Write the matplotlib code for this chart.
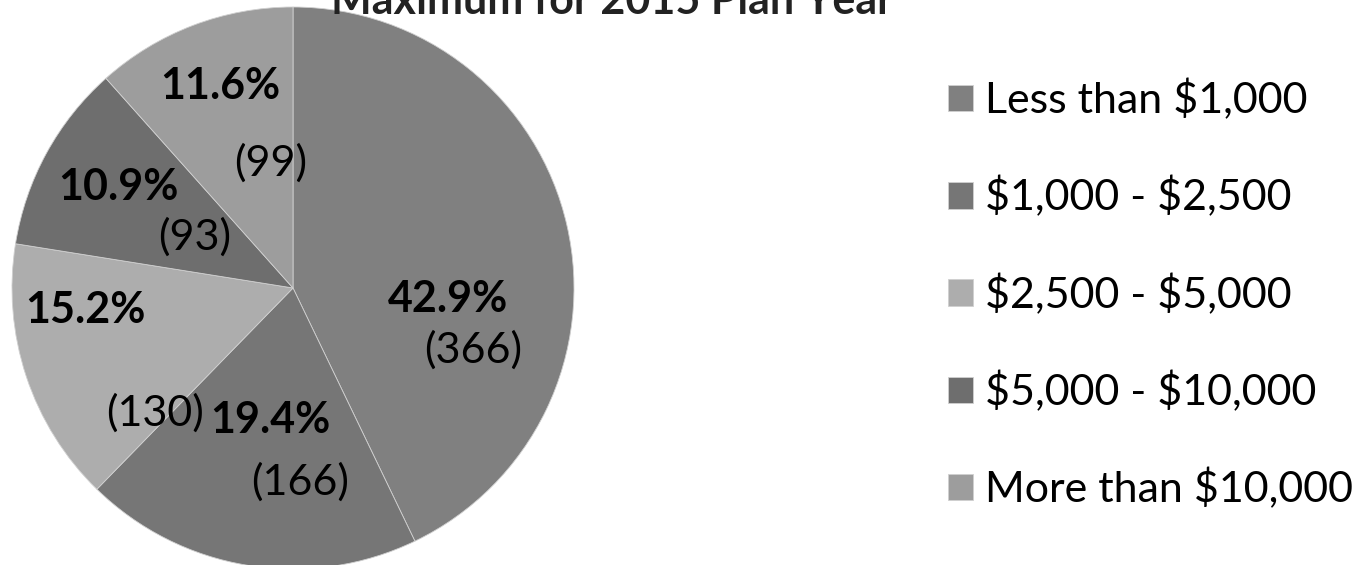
import matplotlib
matplotlib.use("Agg")
import matplotlib.pyplot as plt

# data
labels = ["Less than $1,000", "$1,000 - $2,500", "$2,500 - $5,000",
          "$5,000 - $10,000", "More than $10,000"]
counts = [366, 166, 130, 93, 99]
pcts = ["42.9%", "19.4%", "15.2%", "10.9%", "11.6%"]
colors = ["#808080", "#767676", "#adadad", "#6e6e6e", "#9d9d9d"]

plt.rcParams['font.family'] = ['Lato', 'DejaVu Sans']
plt.rcParams['text.parse_math'] = False

fig = plt.figure(figsize=(13.65, 5.65), dpi=100)
W, H = 1365, 565

# pie centred at (293, 288) px, radius 281 px
cx, cy, r = 293, 288, 281
ax = fig.add_axes([(cx - r) / W, (H - cy - r) / H, 2 * r / W, 2 * r / H])

wedges, _ = ax.pie(counts, colors=colors, startangle=90, counterclock=False,
                   radius=1, wedgeprops=dict(edgecolor='#d0d0d0', linewidth=0.6))
ax.set_xlim(-1, 1)
ax.set_ylim(-1, 1)
ax.axis('off')

# label placement (in pie radius units)
pct_pos = [(0.55, -0.04), (-0.08, -0.47), (-0.74, -0.08), (-0.62, 0.36), (-0.26, 0.72)]
cnt_pos = [(0.64, -0.22), (0.025, -0.69), (-0.49, -0.445), (-0.35, 0.18), (-0.08, 0.445)]

for i in range(len(counts)):
    ax.text(pct_pos[i][0], pct_pos[i][1], pcts[i], ha='center', va='center',
            fontsize=31, fontweight='bold', color='black')
    ax.text(cnt_pos[i][0], cnt_pos[i][1], "(%d)" % counts[i], ha='center', va='center',
            fontsize=31, color='black')

# title, cut off at the top edge like the original
fig.text(612 / W, 1 - 14 / H, "Maximum for 2015 Plan Year", ha='center', va='baseline',
         fontsize=31, fontweight='bold', color='#222222')

fig.legend(wedges, labels, loc='upper left', bbox_to_anchor=(948 / W, 1 - 79 / H),
           frameon=False, fontsize=31, handlelength=0.57, handleheight=0.57,
           handletextpad=0.3, labelspacing=1.3, borderaxespad=0, borderpad=0)

fig.savefig("out.png", dpi=100)
